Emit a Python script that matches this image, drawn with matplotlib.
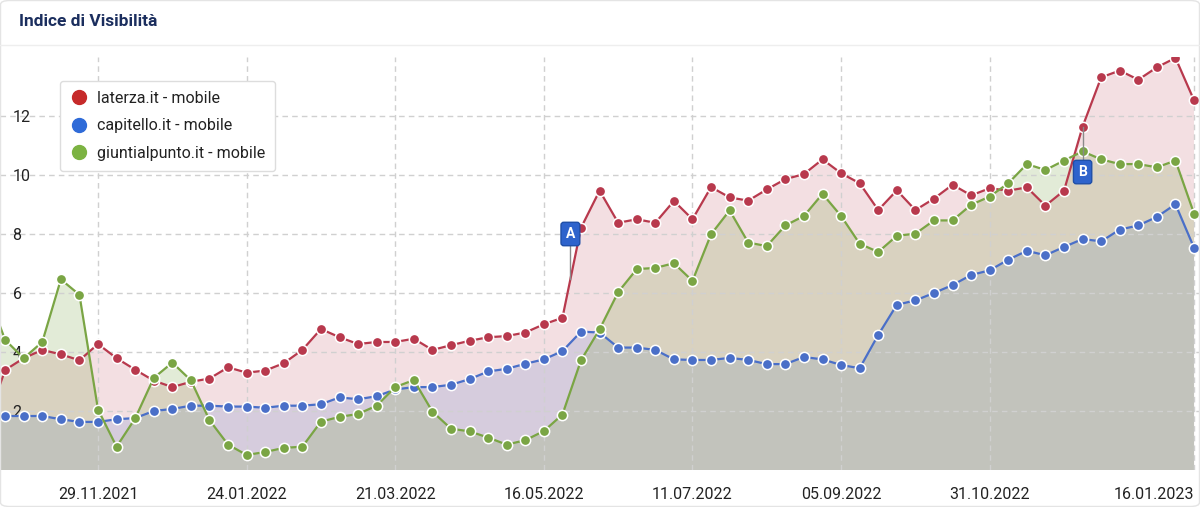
import matplotlib
matplotlib.use("Agg")
import matplotlib.pyplot as plt
import matplotlib.dates as mdates
from matplotlib.lines import Line2D
from matplotlib.patches import FancyBboxPatch
import numpy as np
import pandas as pd

plt.rcParams['font.family'] = ['Roboto', 'DejaVu Sans']

# ---- data ----
dates = pd.date_range('2021-10-18', periods=66, freq='7D')

laterza = [1.6, 3.39, 3.79, 4.07, 3.92, 3.72, 4.27, 3.79, 3.40, 3.03, 2.81, 2.99,
           3.10, 3.48, 3.30, 3.37, 3.62, 4.07, 4.78, 4.50, 4.27, 4.34, 4.34,
           4.45, 4.07, 4.23, 4.38, 4.50, 4.54, 4.66, 4.94, 5.16, 8.21, 9.47,
           8.38, 8.50, 8.38, 9.12, 8.50, 9.59, 9.24, 9.13, 9.51, 9.86, 10.03,
           10.53, 10.06, 9.72, 8.81, 9.48, 8.81, 9.20, 9.67, 9.31, 9.55,
           9.47, 9.58, 8.96, 9.47, 11.64, 13.31, 13.54, 13.23, 13.65, 13.97, 12.53]

capitello = [1.85, 1.83, 1.83, 1.83, 1.72, 1.63, 1.63, 1.72, 1.76, 2.00, 2.07, 2.18,
             2.18, 2.15, 2.15, 2.11, 2.18, 2.18, 2.23, 2.46, 2.40, 2.50, 2.73,
             2.81, 2.81, 2.89, 3.08, 3.34, 3.43, 3.60, 3.75, 4.03, 4.69, 4.66,
             4.15, 4.15, 4.07, 3.75, 3.73, 3.73, 3.80, 3.73, 3.59, 3.59, 3.83,
             3.75, 3.56, 3.45, 4.58, 5.60, 5.75, 6.00, 6.27, 6.61, 6.77,
             7.13, 7.43, 7.28, 7.56, 7.83, 7.75, 8.15, 8.29, 8.58, 9.01, 7.53]

giuntialpunto = [6.1, 4.41, 3.79, 4.34, 6.46, 5.94, 2.05, 0.79, 1.75, 3.12, 3.64, 3.04,
                 1.69, 0.86, 0.51, 0.61, 0.75, 0.79, 1.64, 1.80, 1.90, 2.18, 2.81,
                 3.05, 1.98, 1.40, 1.31, 1.10, 0.86, 1.01, 1.32, 1.88, 3.72, 4.77,
                 6.03, 6.81, 6.85, 7.01, 6.41, 7.99, 8.80, 7.71, 7.59, 8.29, 8.61,
                 9.36, 8.61, 7.67, 7.39, 7.94, 8.01, 8.46, 8.46, 8.99, 9.27,
                 9.72, 10.37, 10.17, 10.49, 10.80, 10.53, 10.37, 10.37, 10.26, 10.49, 8.69]

series_names = ['laterza.it - mobile', 'capitello.it - mobile', 'giuntialpunto.it - mobile']
line_colors = ['#b8394d', '#4a6fc8', '#7aa544']
fill_alphas = [0.16, 0.17, 0.21]
legend_colors = ['#c62a2a', '#2f6bd8', '#7cb342']

tick_dates = ['2021-11-29', '2022-01-24', '2022-03-21', '2022-05-16',
              '2022-07-11', '2022-09-05', '2022-10-31', '2023-01-16']
tick_labels = ['29.11.2021', '24.01.2022', '21.03.2022', '16.05.2022',
               '11.07.2022', '05.09.2022', '31.10.2022', '16.01.2023']
y_ticks = [2, 4, 6, 8, 10, 12]

events = ['A', 'B']
event_dates = ['2022-05-26', '2022-12-05']

# ---- figure ----
W, H = 1200, 507
fig = plt.figure(figsize=(W / 100, H / 100), dpi=100)
fig.patch.set_facecolor('white')

ax_bottom = 470
ax_top = 57
ax = fig.add_axes([0, (H - ax_bottom) / H, 1, (ax_bottom - ax_top) / H])
ax.set_facecolor('white')

xnum = mdates.date2num(dates)
all_series = [laterza, capitello, giuntialpunto]

for vals, col, a in zip(all_series, line_colors, fill_alphas):
    ax.fill_between(xnum, 0, vals, color=col, alpha=a, linewidth=0, zorder=1)
for i, (vals, col) in enumerate(zip(all_series, line_colors)):
    ax.plot(xnum, vals, color=col, linewidth=1.6, marker='o', markersize=7.4,
            markerfacecolor=col, markeredgecolor='white', markeredgewidth=1.1,
            zorder=3 + i, clip_on=True)

# x range
t0 = mdates.date2num(pd.Timestamp('2021-11-29'))
t1 = mdates.date2num(pd.Timestamp('2023-01-16'))
ax.set_xlim(t0 - 5.276 * 7, t1 + 0.32 * 7)
ax.set_ylim(0, 14)

tick_nums = mdates.date2num(pd.to_datetime(tick_dates))
ax.set_xticks(tick_nums)
ax.set_xticklabels(tick_labels)
ax.set_yticks(y_ticks)
ax.set_yticklabels([str(v) for v in y_ticks])

ax.tick_params(axis='x', length=0, pad=12, labelsize=11.5, labelcolor='#222222')
ax.tick_params(axis='y', length=0, pad=-9, labelsize=11.5, labelcolor='#222222')
for lbl in ax.get_yticklabels():
    lbl.set_horizontalalignment('left')
xl = ax.get_xticklabels()
xl[-1].set_horizontalalignment('right')

ax.set_axisbelow(False)
ax.grid(True, color='#d0d0d0', linestyle=(0, (4, 3)), linewidth=1.0)
for s in ax.spines.values():
    s.set_visible(False)

# event flags
for lab, d in zip(events, event_dates):
    xd = mdates.date2num(pd.Timestamp(d))
    yr = float(np.interp(xd, xnum, laterza))
    if lab == 'A':
        ybox = 8.0
        y_line_end = ybox - 0.35
    else:
        ybox = 10.1
        y_line_end = ybox + 0.35
    ax.plot([xd, xd], [yr, y_line_end], color='#8a8a8a', linewidth=1.0, zorder=8)
    ax.text(xd, ybox, lab, ha='center', va='center', color='white', fontsize=10,
            fontweight='bold', zorder=10,
            bbox=dict(boxstyle='round,pad=0.34,rounding_size=0.2', facecolor='#2e63cc',
                      edgecolor='#1f4fa8', linewidth=1.0))

# legend
handles = [Line2D([0], [0], linestyle='none', marker='o', markersize=10,
                  markerfacecolor=c, markeredgecolor=c) for c in legend_colors]
leg = ax.legend(handles, series_names, loc='upper left',
                bbox_to_anchor=(60 / W, (ax_bottom - 81) / (ax_bottom - ax_top)),
                borderaxespad=0, fontsize=11.5, frameon=True, fancybox=True,
                edgecolor='#dddddd', facecolor='white', framealpha=1,
                handletextpad=0.5, labelspacing=0.78, borderpad=0.62,
                handlelength=1.2)
leg.get_frame().set_linewidth(1.0)
for t in leg.get_texts():
    t.set_color('#222222')
leg.set_zorder(20)

# title & header
fig.text(19 / W, 1 - 22 / H, 'Indice di Visibilità', ha='left', va='center',
         fontsize=12.5, fontweight='bold', color='#1b2e5e')
fig.add_artist(Line2D([0, 1], [1 - 45 / H, 1 - 45 / H], color='#eeeeee',
                      linewidth=1.0, transform=fig.transFigure))
fig.add_artist(FancyBboxPatch((0.5 / W, 0.5 / H), 1 - 1 / W, 1 - 1 / H,
                              boxstyle='round,pad=0,rounding_size=0.008',
                              transform=fig.transFigure, facecolor='none',
                              edgecolor='#e4e4e4', linewidth=1.0))

fig.savefig('out.png', dpi=100, facecolor='white')
